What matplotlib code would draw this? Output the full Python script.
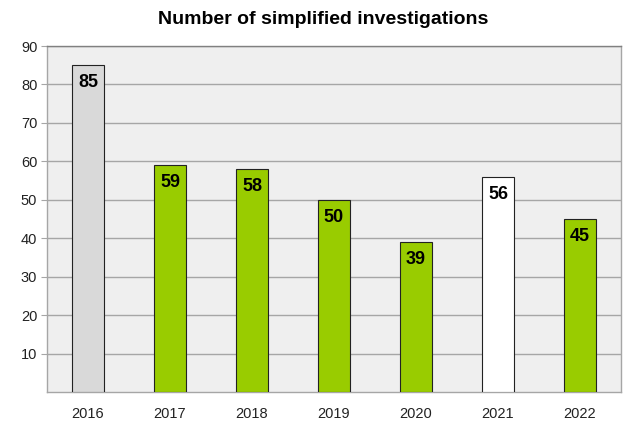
import matplotlib.pyplot as plt
import numpy as np

plt.rcParams['font.family'] = ['Liberation Sans', 'DejaVu Sans']

years = ["2016", "2017", "2018", "2019", "2020", "2021", "2022"]
counts = [85, 59, 58, 50, 39, 56, 45]
colors = ["#d9d9d9", "#99cc00", "#99cc00", "#99cc00", "#99cc00", "#ffffff", "#99cc00"]

fig = plt.figure(figsize=(6.31, 4.21), dpi=100)
ax = fig.add_axes([47/631, 1 - 392/421, 574/631, 346/421])
ax.set_facecolor("#efefef")

x = np.arange(len(years))
bars = ax.bar(x, counts, width=0.39, color=colors, edgecolor="#222222", linewidth=0.8, zorder=3)

for b, v in zip(bars, counts):
    ax.annotate(str(v), (b.get_x() + b.get_width() / 2, v), xytext=(0, -6.5),
                textcoords="offset points", ha="center", va="top",
                fontsize=13, fontweight="bold", zorder=4)

ax.set_xlim(-0.5, 6.5)
ax.set_ylim(0, 90)
ax.set_yticks(range(10, 100, 10))
ax.set_xticks(x)
ax.set_xticklabels(years)
ax.yaxis.grid(True, color="#a6a6a6", linewidth=1.0, zorder=0)
ax.tick_params(axis="y", length=4, color="#a6a6a6", labelsize=10.5, labelcolor="#222222", pad=3)
ax.tick_params(axis="x", length=0, labelsize=10.5, labelcolor="#222222", pad=11)
for s in ax.spines.values():
    s.set_color("#a6a6a6")
    s.set_linewidth(1.0)
ax.spines["top"].set_color("#808080")

fig.text(323/631, 1 - 19/421, "Number of simplified investigations", ha="center", va="center",
         fontsize=14, fontweight="bold")

fig.savefig("out.png", dpi=100)
